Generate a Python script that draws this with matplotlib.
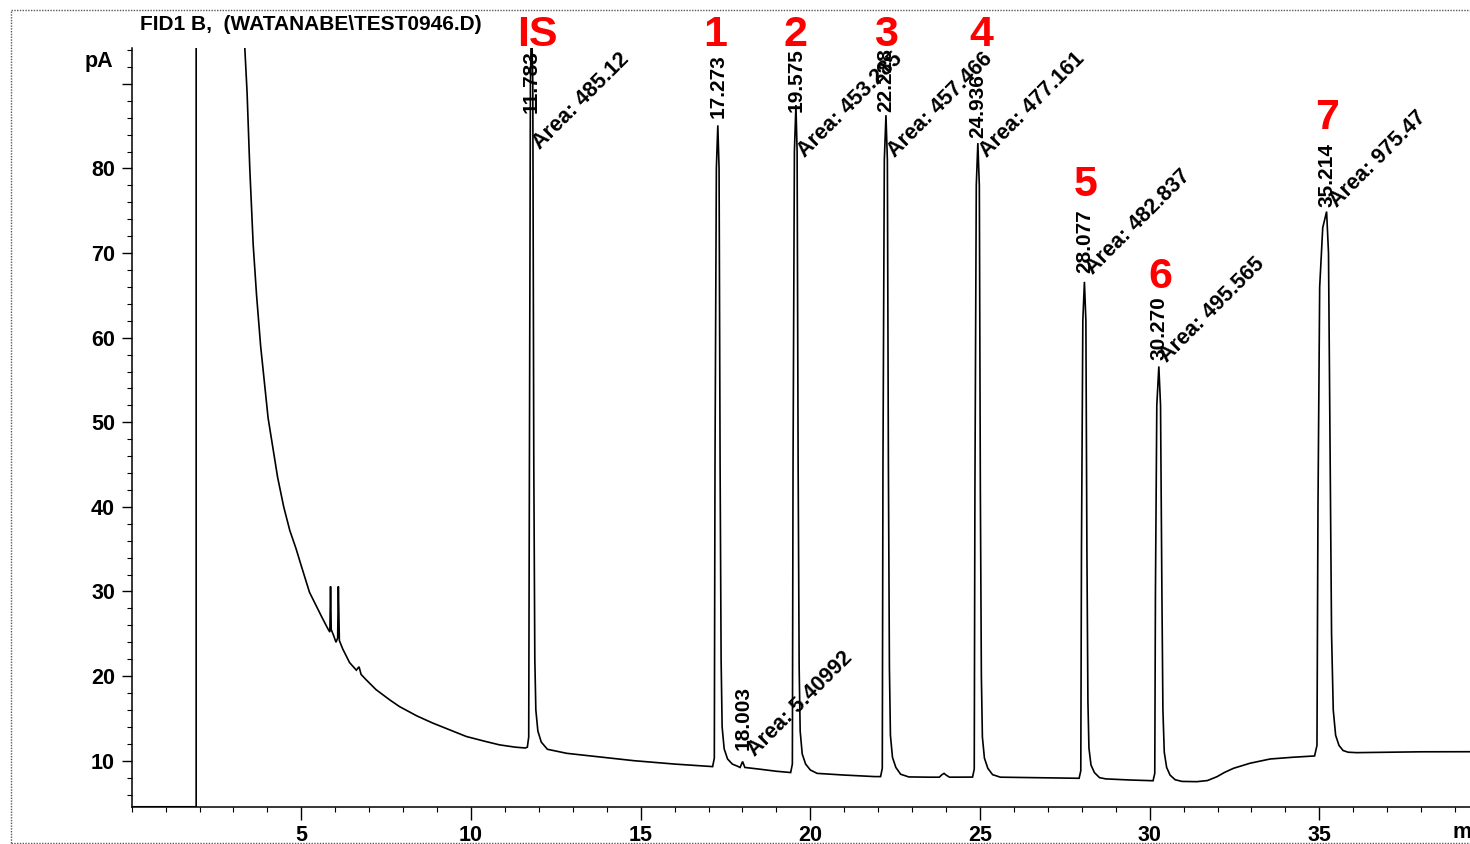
#!/usr/bin/env python3
"""
FID1 B chromatogram (WATANABE\\TEST0946.D), redrawn from the scanned print-out
"""

import numpy as np
import matplotlib
matplotlib.use("Agg")
from matplotlib import pyplot as plt
from matplotlib.lines import Line2D
from matplotlib.ticker import MultipleLocator

plt.rcParams["font.family"] = ["Liberation Sans", "DejaVu Sans"]

# signal trace, (time in min, signal in pA)
solvent = [(0.0, 4.55), (1.90, 4.55), (1.90, 120.0), (3.30, 120.0)]
early_decay = [(3.33, 94.5), (3.40, 89.0), (3.48, 80.0), (3.58, 71.0), (3.68, 65.0),
               (3.80, 59.0), (4.02, 50.5), (4.30, 43.5), (4.48, 40.0), (4.66, 37.2),
               (4.84, 35.1), (5.00, 33.0), (5.24, 29.9), (5.45, 28.2), (5.60, 27.0),
               (5.78, 25.6), (5.84, 25.2), (5.86, 30.6), (5.88, 25.5), (5.95, 24.8),
               (6.02, 24.0), (6.07, 24.5), (6.09, 30.6), (6.12, 24.2), (6.22, 23.2),
               (6.42, 21.6), (6.62, 20.7), (6.70, 21.1), (6.76, 20.2), (6.90, 19.6),
               (7.20, 18.4), (7.60, 17.2), (7.89, 16.4), (8.40, 15.3), (8.87, 14.45),
               (9.40, 13.6), (9.86, 12.86), (10.40, 12.3), (10.84, 11.87), (11.30, 11.6)]
peak_is = [(11.60, 11.50), (11.66, 11.6), (11.70, 12.8), (11.72, 45.0), (11.75, 90.0),
           (11.783, 98.0), (11.82, 90.0), (11.85, 45.0), (11.88, 22.0), (11.91, 16.0),
           (11.97, 13.5), (12.07, 12.2), (12.25, 11.35)]
base_is_1 = [(12.82, 10.87), (14.80, 10.0), (16.00, 9.6)]
peak_1 = [(17.12, 9.30), (17.17, 10.3), (17.19, 45.0), (17.23, 80.0), (17.273, 85.1),
          (17.31, 80.0), (17.34, 45.0), (17.37, 22.0), (17.40, 14.0), (17.46, 11.4),
          (17.56, 10.2), (17.70, 9.6), (17.85, 9.35)]
peak_small = [(17.93, 9.20), (18.003, 9.9), (18.07, 9.2)]
base_1_2 = [(18.50, 9.0), (19.00, 8.75), (19.40, 8.6)]
peak_2 = [(19.42, 8.60), (19.47, 9.6), (19.49, 45.0), (19.53, 82.0), (19.575, 87.5),
          (19.61, 82.0), (19.64, 45.0), (19.67, 21.0), (19.70, 13.5), (19.76, 10.8),
          (19.86, 9.6), (20.00, 8.9), (20.20, 8.5)]
base_2_3 = [(21.00, 8.30), (21.90, 8.12)]
peak_3 = [(22.07, 8.12), (22.12, 9.1), (22.14, 45.0), (22.18, 81.0), (22.228, 86.3),
          (22.27, 81.0), (22.30, 45.0), (22.33, 21.0), (22.36, 13.0), (22.42, 10.4),
          (22.52, 9.2), (22.66, 8.4), (22.90, 8.08)]
base_3_4 = [(23.50, 8.05), (23.80, 8.05), (23.88, 8.35), (23.94, 8.5), (24.00, 8.3),
            (24.10, 8.05), (24.70, 8.05)]
peak_4 = [(24.78, 8.06), (24.83, 9.0), (24.85, 42.0), (24.89, 78.0), (24.936, 83.0),
          (24.98, 78.0), (25.01, 42.0), (25.04, 20.0), (25.07, 12.8), (25.13, 10.3),
          (25.23, 9.1), (25.37, 8.35), (25.60, 8.05)]
base_4_5 = [(26.50, 8.00), (27.40, 7.95)]
peak_5 = [(27.92, 7.92), (27.97, 8.8), (27.99, 35.0), (28.03, 62.0), (28.077, 66.6),
          (28.12, 62.0), (28.15, 35.0), (28.18, 17.0), (28.21, 11.5), (28.27, 9.5),
          (28.37, 8.6), (28.52, 8.0), (28.70, 7.85)]
base_5_6 = [(29.40, 7.72), (29.95, 7.64)]
peak_6 = [(30.10, 7.63), (30.15, 8.5), (30.17, 30.0), (30.21, 52.0), (30.270, 56.6),
          (30.32, 52.0), (30.36, 30.0), (30.39, 16.0), (30.43, 11.0), (30.50, 9.2),
          (30.60, 8.3), (30.75, 7.75), (30.95, 7.55)]
base_6_7 = [(31.39, 7.52), (31.70, 7.65), (31.98, 8.1), (32.20, 8.6), (32.47, 9.1),
            (32.96, 9.7), (33.55, 10.2), (34.20, 10.4), (34.80, 10.55)]
peak_7 = [(34.86, 10.56), (34.93, 11.8), (34.96, 40.0), (35.01, 66.0), (35.10, 73.0),
          (35.214, 74.9), (35.27, 70.0), (35.32, 45.0), (35.36, 25.0), (35.41, 16.0),
          (35.48, 13.0), (35.58, 11.8), (35.70, 11.2), (35.85, 11.0)]
late_base = [(36.10, 10.95), (37.00, 11.0), (38.00, 11.05), (39.50, 11.06)]

# peak annotations printed by the integrator
rt_times = [11.783, 17.273, 18.02, 19.575, 22.228, 24.936, 28.077, 30.270, 35.214]
rt_texts = ["11.783", "17.273", "18.003", "19.575", "22.228", "24.936", "28.077",
            "30.270", "35.214"]
area_texts = ["Area: 485.12", "Area: 5.40992", "Area: 453.285", "Area: 457.466",
              "Area: 477.161", "Area: 482.837", "Area: 495.565", "Area: 975.47"]
peak_names = ["IS", "1", "2", "3", "4", "5", "6", "7"]

# label placement (style, not data)
rt_label_y = [86.6, 86.0, 11.3, 86.7, 86.7, 83.6, 67.6, 57.4, 75.5]
area_pos = [(12.03, 82.2), (18.37, 10.4), (19.84, 81.2), (22.50, 81.2),
            (25.21, 81.2), (28.33, 67.4), (30.51, 57.0), (35.52, 75.3)]
name_pos = [(11.95, 95.8), (17.19, 95.8), (19.55, 95.8), (22.23, 95.8),
            (25.03, 95.8), (28.10, 78.0), (30.31, 67.2), (35.23, 86.0)]

if __name__ == "__main__":

    W, H = 1470, 844
    fig = plt.figure(figsize=(W / 100, H / 100), dpi=100)
    x0, y_bot, y_top = 131.7, 807.3, 48.0
    ax = fig.add_axes([x0 / W, 1 - y_bot / H, 1 - x0 / W, (y_bot - y_top) / H])

    segments = [solvent, early_decay, peak_is, base_is_1, peak_1, peak_small, base_1_2,
                peak_2, base_2_3, peak_3, base_3_4, peak_4, base_4_5, peak_5, base_5_6,
                peak_6, base_6_7, peak_7, late_base]
    trace = np.array([p for seg in segments for p in seg])
    ax.plot(trace[:, 0], trace[:, 1], color="black", lw=1.2, solid_joinstyle="miter")

    ax.set_xlim(0, 39.44)
    ax.set_ylim(4.49, 94.24)
    ax.spines["top"].set_visible(False)
    ax.spines["right"].set_visible(False)
    for s in ["left", "bottom"]:
        ax.spines[s].set_linewidth(1.1)

    ax.set_xticks(np.arange(5, 40, 5))
    ax.xaxis.set_minor_locator(MultipleLocator(1))
    ax.set_yticks(np.arange(10, 100, 10))
    ax.set_yticklabels([str(v) for v in range(10, 90, 10)] + [""])
    ax.yaxis.set_minor_locator(MultipleLocator(2))
    ax.tick_params(axis="both", which="major", labelsize=15.5, width=1.0)
    ax.tick_params(axis="x", which="major", length=9, pad=4)
    ax.tick_params(axis="y", which="major", length=7, pad=5)
    ax.tick_params(axis="both", which="minor", length=3.5, width=0.8)
    for lbl in ax.get_xticklabels() + ax.get_yticklabels():
        lbl.set_fontweight("bold")

    # retention times (vertical) and areas (45 degrees)
    for t, txt, y in zip(rt_times, rt_texts, rt_label_y):
        ax.text(t, y, txt, rotation=90, rotation_mode="anchor", ha="left", va="center",
                fontsize=15, fontweight="bold", clip_on=False)
    for (x, y), txt in zip(area_pos, area_texts):
        ax.text(x, y, txt, rotation=45, rotation_mode="anchor", ha="left", va="baseline",
                fontsize=15.5, fontweight="bold", clip_on=False)

    # red peak numbers added on the print-out
    for (x, y), name in zip(name_pos, peak_names):
        ax.text(x, y, name, color="#ff0000", fontsize=31, fontweight="bold",
                ha="center", va="center", clip_on=False)

    fig.text(140 / W, 1 - 25 / H, "FID1 B,  (WATANABE\\TEST0946.D)", fontsize=15,
             fontweight="bold", ha="left", va="center")
    fig.text(99 / W, 1 - 62 / H, "pA", fontsize=15.5, fontweight="bold",
             ha="center", va="center")
    fig.text(1453 / W, 1 - 833 / H, "min", fontsize=15.5, fontweight="bold",
             ha="left", va="center")

    # scan frame
    fx0, fy_top, fy_bot = 11 / W, 1 - 10 / H, 1 - 843 / H
    for xs, ys in [([fx0, 1.0], [fy_top, fy_top]), ([fx0, fx0], [fy_bot, fy_top]),
                   ([fx0, 1.0], [fy_bot, fy_bot])]:
        fig.add_artist(Line2D(xs, ys, transform=fig.transFigure, color="0.35",
                              lw=1.0, ls=(0, (1, 1))))

    plt.savefig("out.png", dpi=100)
    plt.close()
